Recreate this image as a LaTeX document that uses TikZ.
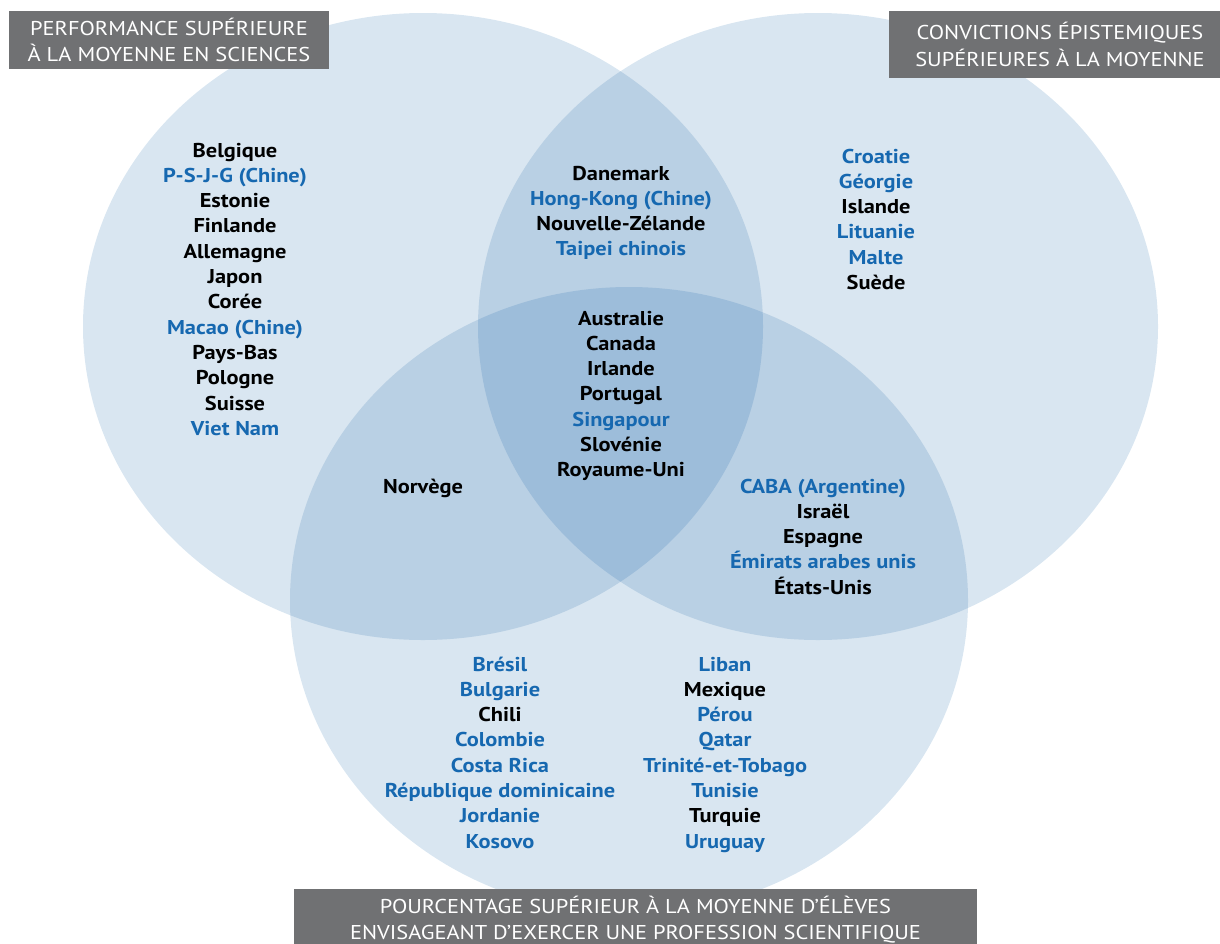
\documentclass[tikz,border=0pt]{standalone}
\usepackage{fontspec}
\setmainfont{PT Sans}
\newfontfamily\cf[FakeStretch=1.12]{PT Sans}
\definecolor{one}{RGB}{217,230,241}
\definecolor{two}{RGB}{185,208,228}
\definecolor{three}{RGB}{157,189,218}
\definecolor{cblue}{RGB}{22,104,176}
\definecolor{boxgray}{RGB}{112,113,115}
\begin{document}
\begin{tikzpicture}[x=1pt,y=-1pt,
  ctry/.style={font=\cf\bfseries\fontsize{20}{24}\selectfont, anchor=base, inner sep=0pt, text=black},
  bl/.style={ctry, text=cblue},
  lab/.style={font=\cf\fontsize{20}{24}\selectfont, anchor=base, inner sep=0pt, text=white},
  labbox/.style={fill=boxgray, draw=none}]
\useasboundingbox (0,0) rectangle (1220,943);
% circles
\fill[one] (423,326.5) ellipse [x radius=340pt, y radius=313.5pt];
\fill[one] (818,326.5) ellipse [x radius=340pt, y radius=313.5pt];
\fill[one] (629,600.5) ellipse [x radius=339pt, y radius=313.5pt];
\begin{scope}
  \clip (423,326.5) ellipse [x radius=340pt, y radius=313.5pt];
  \fill[two] (818,326.5) ellipse [x radius=340pt, y radius=313.5pt];
  \fill[two] (629,600.5) ellipse [x radius=339pt, y radius=313.5pt];
\end{scope}
\begin{scope}
  \clip (818,326.5) ellipse [x radius=340pt, y radius=313.5pt];
  \fill[two] (629,600.5) ellipse [x radius=339pt, y radius=313.5pt];
\end{scope}
\begin{scope}
  \clip (423,326.5) ellipse [x radius=340pt, y radius=313.5pt];
  \clip (818,326.5) ellipse [x radius=340pt, y radius=313.5pt];
  \fill[three] (629,600.5) ellipse [x radius=339pt, y radius=313.5pt];
\end{scope}
% label boxes
\fill[labbox] (9,11) rectangle (329,69);
\node[lab] (t1a) at (169,35) {PERFORMANCE SUPÉRIEURE};
\node[lab] (t1b) at (169,61) {À LA MOYENNE EN SCIENCES};
\fill[labbox] (889,11) rectangle (1231,78);
\node[lab] (t2a) at (1060,39) {CONVICTIONS ÉPISTEMIQUES};
\node[lab] (t2b) at (1060,66) {SUPÉRIEURES À LA MOYENNE};
\fill[labbox] (294,889) rectangle (977,950);
\node[lab] (t3a) at (635.5,913) {POURCENTAGE SUPÉRIEUR À LA MOYENNE D’ÉLÈVES};
\node[lab] (t3b) at (635.5,939) {ENVISAGEANT D’EXERCER UNE PROFESSION SCIENTIFIQUE};
% left group
\node[ctry] (l1) at (235,157) {Belgique};
\node[bl]   (l2) at (235,182.3) {P-S-J-G (Chine)};
\node[ctry] (l3) at (235,207.6) {Estonie};
\node[ctry] (l4) at (235,232.9) {Finlande};
\node[ctry] (l5) at (235,258.2) {Allemagne};
\node[ctry] (l6) at (235,283.5) {Japon};
\node[ctry] (l7) at (235,308.8) {Corée};
\node[bl]   (l8) at (235,334.1) {Macao (Chine)};
\node[ctry] (l9) at (235,359.4) {Pays-Bas};
\node[ctry] (l10) at (235,384.7) {Pologne};
\node[ctry] (l11) at (235,410) {Suisse};
\node[bl]   (l12) at (235,435.3) {Viet Nam};
% top middle
\node[ctry] (m1) at (621,180) {Danemark};
\node[bl]   (m2) at (621,205.3) {Hong-Kong (Chine)};
\node[ctry] (m3) at (621,230.6) {Nouvelle-Zélande};
\node[bl]   (m4) at (621,255.9) {Taipei chinois};
% top right
\node[bl]   (r1) at (876,163) {Croatie};
\node[bl]   (r2) at (876,188.3) {Géorgie};
\node[ctry] (r3) at (876,213.6) {Islande};
\node[bl]   (r4) at (876,238.9) {Lituanie};
\node[bl]   (r5) at (876,264.2) {Malte};
\node[ctry] (r6) at (876,289.5) {Suède};
% centre
\node[ctry] (c1) at (621,325) {Australie};
\node[ctry] (c2) at (621,350.3) {Canada};
\node[ctry] (c3) at (621,375.6) {Irlande};
\node[ctry] (c4) at (621,400.9) {Portugal};
\node[bl]   (c5) at (621,426.2) {Singapour};
\node[ctry] (c6) at (621,451.5) {Slovénie};
\node[ctry] (c7) at (621,476.8) {Royaume-Uni};
% left-bottom overlap
\node[ctry] (n1) at (423,493) {Norvège};
% right-bottom overlap
\node[bl]   (e1) at (823,493) {CABA (Argentine)};
\node[ctry] (e2) at (823,518.3) {Israël};
\node[ctry] (e3) at (823,543.6) {Espagne};
\node[bl]   (e4) at (823,568.9) {Émirats arabes unis};
\node[ctry] (e5) at (823,594.2) {États-Unis};
% bottom left column
\node[bl]   (b1) at (500,671) {Brésil};
\node[bl]   (b2) at (500,696.3) {Bulgarie};
\node[ctry] (b3) at (500,721.6) {Chili};
\node[bl]   (b4) at (500,746.9) {Colombie};
\node[bl]   (b5) at (500,772.2) {Costa Rica};
\node[bl]   (b6) at (500,797.5) {République dominicaine};
\node[bl]   (b7) at (500,822.8) {Jordanie};
\node[bl]   (b8) at (500,848.1) {Kosovo};
% bottom right column
\node[bl]   (d1) at (725,671) {Liban};
\node[ctry] (d2) at (725,696.3) {Mexique};
\node[bl]   (d3) at (725,721.6) {Pérou};
\node[bl]   (d4) at (725,746.9) {Qatar};
\node[bl]   (d5) at (725,772.2) {Trinité-et-Tobago};
\node[bl]   (d6) at (725,797.5) {Tunisie};
\node[ctry] (d7) at (725,822.8) {Turquie};
\node[bl]   (d8) at (725,848.1) {Uruguay};
\end{tikzpicture}
\end{document}
